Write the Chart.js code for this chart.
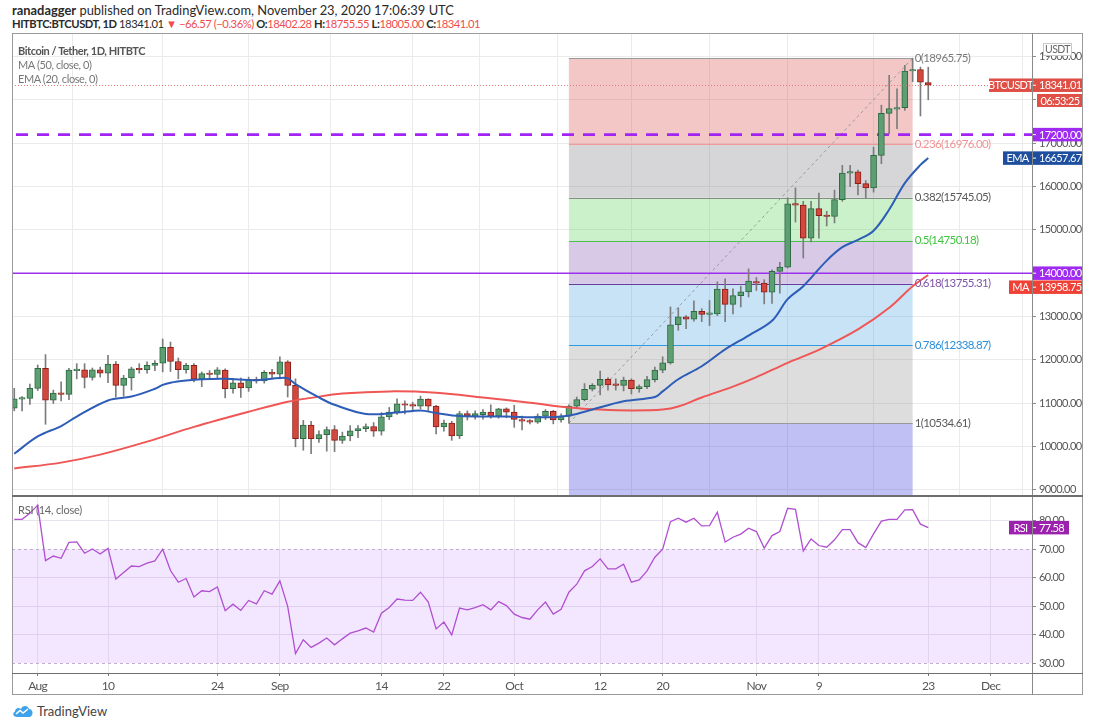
<!DOCTYPE html>
<html lang="en">
<head>
<meta charset="UTF-8">
<title>BTCUSDT 1D</title>
<script src="https://cdn.jsdelivr.net/npm/chart.js"></script>
<style>
  body { margin: 0; background: #fff; font-family: Lato, 'Liberation Sans', sans-serif; }
  #page { position: relative; width: 1102px; height: 728px; overflow: hidden; background: #fff; }
  .abs { position: absolute; white-space: nowrap; }
  .hdr { left: 12px; color: #2a2a2a; }
  .red { color: #ef4d4d; }
  .legend { left: 18px; color: #777; font-size: 11px; letter-spacing: -0.4px; }
  .line { position: absolute; background: #777; }
</style>
</head>
<body>
<div id="page">
  <div class="abs hdr" style="top:2px;font-size:12.9px"><b>ranadagger</b> published on TradingView.com, November 23, 2020 17:06:39 UTC</div>
  <div class="abs hdr" style="top:17px;font-size:11.2px;letter-spacing:-0.45px"><b>HITBTC:BTCUSDT, 1D</b> 18341.01 <span class="red">&#9660; &minus;66.57 (&minus;0.36%)</span> <b>O:</b><span class="red">18402.28</span> <b>H:</b><span class="red">18755.55</span> <b>L:</b><span class="red">18005.00</span> <b>C:</b><span class="red">18341.01</span></div>

  <div class="abs" style="left:12px;top:34px;width:1071px;height:462px"><canvas id="priceChart"></canvas></div>
  <div class="abs" style="left:12px;top:496px;width:1071px;height:199px"><canvas id="rsiChart"></canvas></div>

  <!-- frame and panel separators -->
  <div class="abs" style="left:12px;top:33px;width:1071px;height:662px;border:1px solid #9a9a9a;box-sizing:border-box"></div>
  <div class="line" style="left:1032px;top:33px;width:1px;height:662px;background:#8a8a8a"></div>
  <div class="line" style="left:12px;top:495px;width:1071px;height:2px;background:#6e6e6e"></div>
  <div class="line" style="left:12px;top:673px;width:1071px;height:1px;background:#6e6e6e"></div>

  <div class="abs legend" style="top:44px;color:#555;font-weight:bold;letter-spacing:-0.45px">Bitcoin / Tether, 1D, HITBTC</div>
  <div class="abs legend" style="top:58px">MA (50, close, 0)</div>
  <div class="abs legend" style="top:72px">EMA (20, close, 0)</div>
  <div class="abs legend" style="top:503px;color:#666;letter-spacing:-0.2px">RSI (14, close)</div>

  <div class="abs" style="left:12px;top:703px;font-size:13px;color:#444">
    <svg width="22" height="14" viewBox="0 0 22 14" style="vertical-align:-2px"><path d="M5 13 C1 13 0 9 3 7.5 C3 4 7 3 9 5 C10 1 16 1 17 5 C21 5 22 11 18 13 Z" fill="#3ea3ea"/><path d="M4 10 L8 6.5 L11 9 L16 5" stroke="#fff" stroke-width="1.6" fill="none"/></svg>
    TradingView
  </div>
</div>

<script>
// ---- data ----
const dates = [
  '07-29','07-30','07-31',
  '08-01','08-02','08-03','08-04','08-05','08-06','08-07','08-08','08-09','08-10','08-11','08-12','08-13','08-14','08-15','08-16',
  '08-17','08-18','08-19','08-20','08-21','08-22','08-23','08-24','08-25','08-26','08-27','08-28','08-29','08-30','08-31',
  '09-01','09-02','09-03','09-04','09-05','09-06','09-07','09-08','09-09','09-10','09-11','09-12','09-13','09-14','09-15',
  '09-16','09-17','09-18','09-19','09-20','09-21','09-22','09-23','09-24','09-25','09-26','09-27','09-28','09-29','09-30',
  '10-01','10-02','10-03','10-04','10-05','10-06','10-07','10-08','10-09','10-10','10-11','10-12','10-13','10-14','10-15','10-16',
  '10-17','10-18','10-19','10-20','10-21','10-22','10-23','10-24','10-25','10-26','10-27','10-28','10-29','10-30','10-31',
  '11-01','11-02','11-03','11-04','11-05','11-06','11-07','11-08','11-09','11-10','11-11','11-12','11-13','11-14','11-15','11-16',
  '11-17','11-18','11-19','11-20','11-21','11-22','11-23'
];
const opens = [
  10880, 11090, 11110,
  11340, 11800, 11070, 11230, 11200, 11750, 11770, 11590, 11770, 11690, 11900, 11410, 11580, 11790, 11770, 11870,
  11920, 12290, 11960, 11770, 11870, 11550, 11690, 11660, 11760, 11330, 11470, 11350, 11550, 11510, 11710,
  11670, 11950, 11410, 10180, 10490, 10180, 10270, 10390, 10140, 10240, 10360, 10410, 10460, 10350, 10680,
  10790, 10980, 10950, 10930, 11090, 10930, 10450, 10540, 10240, 10760, 10700, 10730, 10790, 10700, 10870,
  10790, 10620, 10590, 10560, 10700, 10810, 10610, 10700, 10930, 11080, 11320, 11410, 11550, 11420, 11410, 11530,
  11330, 11380, 11540, 11760, 11930, 12810, 12990, 12940, 13120, 13050, 13060, 13630, 13280, 13480, 13570,
  13800, 13770, 13560, 14040, 14140, 15600, 15570, 14810, 15490, 15340, 15310, 15700, 16310, 16340, 16070, 15970,
  16720, 17690, 17790, 17820, 18670, 18700, 18402.28
];
const highs = [
  11340, 11150, 11440,
  11880, 12120, 11300, 11490, 11800, 11910, 11910, 11810, 11830, 12100, 11960, 11640, 11830, 11910, 11950, 11980,
  12480, 12410, 12040, 11920, 11910, 11720, 11750, 11820, 11790, 11570, 11580, 11600, 11600, 11750, 11780,
  12070, 11980, 11560, 10600, 10580, 10360, 10450, 10480, 10330, 10480, 10480, 10520, 10550, 10780, 10900,
  11100, 11050, 11020, 11160, 11100, 10950, 10610, 10580, 10810, 10820, 10820, 10850, 10960, 10880, 10890,
  10950, 10700, 10620, 10750, 10850, 10830, 10750, 10960, 11140, 11450, 11450, 11740, 11590, 11560, 11600, 11560,
  11420, 11620, 11830, 12070, 13220, 13200, 13020, 13360, 13180, 13370, 13800, 13870, 13640, 13700, 14100,
  13900, 13850, 14080, 14250, 15740, 15970, 15660, 15660, 15850, 15430, 15920, 16490, 16490, 16380, 16140, 16910,
  17880, 18570, 18260, 18800, 18965.75, 18760, 18755.55
];
const lows = [
  10820, 10820, 10970,
  11290, 10510, 10990, 11050, 11080, 11560, 11350, 11530, 11600, 11470, 11140, 11160, 11300, 11690, 11690, 11750,
  11720, 11730, 11560, 11690, 11490, 11380, 11560, 11580, 11120, 11230, 11130, 11270, 11460, 11460, 11560,
  11560, 11140, 9990, 9910, 9830, 10090, 9890, 9880, 10070, 10130, 10200, 10340, 10230, 10260, 10620,
  10740, 10750, 10800, 10870, 10800, 10290, 10350, 10140, 10180, 10610, 10630, 10630, 10650, 10650, 10660,
  10440, 10380, 10520, 10530, 10620, 10520, 10560, 10534.61, 10880, 11050, 11280, 11190, 11300, 11300, 11280, 11210,
  11250, 11330, 11490, 11700, 11900, 12680, 12720, 12890, 12880, 12790, 13020, 12880, 13060, 13220, 13450,
  13600, 13290, 13300, 13540, 14120, 15180, 14350, 14720, 14810, 15090, 15160, 15660, 16000, 15810, 15740, 15870,
  16530, 17220, 17340, 17760, 18420, 17630, 18005.00
];
const closes = [
  11100, 11110, 11340,
  11800, 11070, 11230, 11200, 11760, 11770, 11590, 11770, 11690, 11900, 11410, 11580, 11790, 11770, 11870, 11920,
  12290, 11960, 11770, 11870, 11550, 11680, 11660, 11770, 11330, 11470, 11350, 11550, 11510, 11710, 11670,
  11950, 11410, 10180, 10490, 10180, 10270, 10390, 10140, 10240, 10360, 10410, 10460, 10350, 10680, 10790,
  10980, 10950, 10930, 11090, 10930, 10450, 10540, 10240, 10760, 10700, 10760, 10790, 10700, 10870, 10790,
  10620, 10580, 10560, 10700, 10810, 10610, 10700, 10930, 11080, 11320, 11410, 11550, 11420, 11410, 11530, 11330,
  11380, 11540, 11760, 11930, 12810, 12990, 12940, 13120, 13050, 13060, 13630, 13280, 13480, 13570, 13820,
  13770, 13560, 14040, 14140, 15600, 15570, 14810, 15490, 15330, 15310, 15700, 16310, 16340, 16070, 15970, 16720,
  17690, 17800, 17820, 18670, 18700, 18410, 18341.01
];
const rsiValues = [
  80.5, 80.5, 82.6,
  85.5, 66.0, 67.6, 66.8, 72.4, 72.6, 68.6, 70.1, 68.3, 70.3, 59.5, 61.8, 64.1, 63.9, 65.1, 65.9,
  70.0, 62.5, 58.4, 59.7, 53.2, 55.4, 55.1, 56.7, 48.4, 50.7, 48.5, 52.0, 50.8, 55.4, 54.2,
  58.9, 49.9, 33.3, 38.2, 35.5, 37.0, 38.8, 36.4, 38.5, 40.5, 41.3, 42.3, 40.9, 47.5, 49.5,
  52.5, 52.1, 52.0, 54.9, 51.4, 42.0, 44.4, 39.9, 49.3, 48.7, 49.5, 50.5, 48.7, 51.6, 50.2,
  47.2, 46.0, 45.4, 48.7, 51.4, 47.2, 48.9, 54.9, 57.7, 62.4, 63.9, 66.6, 63.1, 63.1, 64.7, 58.4,
  59.2, 62.4, 67.2, 70.0, 79.7, 80.9, 79.5, 80.9, 78.2, 78.3, 83.0, 72.5, 74.2, 75.3, 77.4,
  76.2, 70.4, 74.8, 76.2, 84.4, 84.0, 69.4, 73.6, 71.3, 70.7, 73.3, 76.9, 76.9, 72.3, 70.6, 75.4,
  79.9, 80.5, 80.5, 83.8, 83.9, 78.8, 77.58
];

const emaDates  = ['07-29','08-01','08-04','08-06','08-10','08-13','08-16','08-17','08-18','08-20','08-22','08-25','08-29','09-01','09-02','09-03','09-06','09-08','09-12','09-16','09-19','09-21','09-24','09-30','10-04','10-07','10-09','10-11','10-15','10-19','10-20','10-22','10-25','10-28','10-31','11-03','11-05','11-07','11-10','11-12','11-14','11-16','11-18','11-20','11-22','11-23'];
const emaValues = [9830, 10230, 10470, 10690, 11060, 11150, 11330, 11420, 11470, 11520, 11550, 11560, 11530, 11580, 11570, 11440, 11130, 10960, 10750, 10780, 10830, 10770, 10700, 10690, 10670, 10690, 10750, 10850, 11040, 11140, 11270, 11550, 11850, 12240, 12560, 12900, 13400, 13700, 14290, 14600, 14770, 14980, 15470, 16080, 16500, 16657.67];
const maDates  = ['07-29','08-04','08-09','08-15','08-21','08-28','09-02','09-05','09-09','09-15','09-21','09-27','10-03','10-08','10-12','10-16','10-20','10-22','10-25','10-29','11-01','11-05','11-09','11-14','11-18','11-21','11-23'];
const maValues = [9490, 9625, 9810, 10110, 10450, 10800, 11030, 11120, 11220, 11270, 11240, 11130, 11010, 10900, 10850, 10830, 10850, 10920, 11130, 11380, 11600, 11930, 12230, 12700, 13200, 13700, 13958.75];

// fibonacci retracement drawn on the chart
const fibStart = '10-08';
const fibEnd = '11-21';
const fibRatios = ['0', '0.236', '0.382', '0.5', '0.618', '0.786', '1'];
const fibLevels = [18965.75, 16976.00, 15745.05, 14750.18, 13755.31, 12338.87, 10534.61];
const fibZoneColors = ['rgba(220,70,70,0.30)', 'rgba(120,120,130,0.30)', 'rgba(80,210,80,0.30)', 'rgba(100,40,160,0.25)', 'rgba(50,150,220,0.27)', 'rgba(120,120,120,0.25)', 'rgba(60,60,220,0.32)'];
const fibLineColors = ['#9a9a9a', '#f19a9a', '#8a8a8a', '#4cc24c', '#6a3d9a', '#2f9be3', '#9a9a9a'];
const fibTextColors = ['#7a7a7a', '#f09292', '#5a5a5a', '#3fc43f', '#7d55a8', '#2a8fd8', '#5a5a5a'];

// horizontal levels
const supportDashed = 17200;
const supportSolid = 14000;
const lastPrice = 18341.01;
const countdown = '06:53:25';

// axis ticks
const priceTicks = [9000, 10000, 11000, 12000, 13000, 14000, 15000, 16000, 17000, 18000, 19000];
const rsiTicks = [30, 40, 50, 60, 70, 80];
const tickDates = ['08-01','08-10','08-24','09-01','09-14','09-22','10-01','10-12','10-20','11-01','11-09','11-23','12-01'];
const tickLabels = ['Aug','10','24','Sep','14','22','Oct','12','20','Nov','9','23','Dec'];

// ---- helpers ----
const toDay = md => {
  const [m, d] = md.split('-').map(Number);
  return Math.round((Date.UTC(2020, m - 1, d) - Date.UTC(2020, 7, 1)) / 864e5);
};
const xs = dates.map(toDay);
const X_MIN = -3.29, X_MAX = 127.28;
const FONT = 'Lato, "Liberation Sans", sans-serif';
Chart.defaults.font.family = FONT;
Chart.defaults.animation = false;

// the reference uses a narrow face; tighten canvas text a bit
Chart.register({ id: 'tightText', beforeDraw(chart) { chart.ctx.letterSpacing = '-0.6px'; } });

const upFill = '#5d9f72', upLine = '#2d6a42', dnFill = '#d2483c', dnLine = '#8c1e18';
const isUp = closes.map((c, i) => c >= opens[i]);

const bodies = xs.map((x, i) => ({ x, y: [opens[i], closes[i]] }));
const wicks = xs.map((x, i) => ({ x, y: [lows[i], highs[i]] }));

const zeroPad = s => { s.paddingTop = 0; s.paddingBottom = 0; s.paddingLeft = 0; s.paddingRight = 0; };

const xScale = (showLabels) => ({
  type: 'linear', min: X_MIN, max: X_MAX, offset: false,
  afterBuildTicks: s => { s.ticks = tickDates.map(t => ({ value: toDay(t) })); },
  afterFit: s => { zeroPad(s); s.height = showLabels ? 22 : 0; },
  grid: { color: '#ebebeb', drawTicks: showLabels, tickLength: 3, tickColor: '#777' },
  border: { display: false },
  ticks: {
    display: showLabels, color: '#555', padding: 3, maxRotation: 0, autoSkip: false,
    font: { size: 12 },
    callback: (v) => tickLabels[tickDates.findIndex(t => toDay(t) === v)]
  }
});

function drawTag(ctx, left, right, cy, bg, name, split, value) {
  const h = 13.5;
  ctx.fillStyle = bg;
  ctx.fillRect(left, cy - h / 2, right - left, h);
  ctx.fillStyle = '#fff';
  ctx.font = '11px ' + FONT;
  ctx.textBaseline = 'middle';
  if (name) {
    ctx.textAlign = 'center';
    ctx.fillText(name, (left + split) / 2, cy + 0.5);
  }
  ctx.fillRect(split, cy - 0.5, 4, 1);
  ctx.textAlign = 'left';
  ctx.fillText(value, split + 7, cy + 0.5);
  return cy + h / 2;
}

const priceOverlay = {
  id: 'priceOverlay',
  beforeDatasetsDraw(chart) {
    const { ctx, chartArea: a, scales: { x, y } } = chart;
    ctx.save();
    ctx.beginPath();
    ctx.rect(a.left, a.top, a.right - a.left, a.bottom - a.top);
    ctx.clip();
    const x0 = x.getPixelForValue(toDay(fibStart));
    const x1 = x.getPixelForValue(toDay(fibEnd));
    for (let i = 0; i < fibLevels.length; i++) {
      const yTop = y.getPixelForValue(fibLevels[i]);
      const yBot = i < fibLevels.length - 1 ? y.getPixelForValue(fibLevels[i + 1]) : a.bottom;
      ctx.fillStyle = fibZoneColors[i];
      ctx.fillRect(x0, yTop, x1 - x0, yBot - yTop);
    }
    fibLevels.forEach((lv, i) => {
      const py = Math.round(y.getPixelForValue(lv)) + 0.5;
      ctx.strokeStyle = fibLineColors[i];
      ctx.lineWidth = 1;
      ctx.beginPath(); ctx.moveTo(x0, py); ctx.lineTo(x1, py); ctx.stroke();
    });
    // diagonal trend line of the retracement
    ctx.setLineDash([3, 3]);
    ctx.strokeStyle = '#9a9a9a';
    ctx.beginPath();
    ctx.moveTo(x0, y.getPixelForValue(fibLevels[fibLevels.length - 1]));
    ctx.lineTo(x1, y.getPixelForValue(fibLevels[0]));
    ctx.stroke();
    // 14000 solid and 17200 dashed levels
    ctx.setLineDash([]);
    ctx.strokeStyle = '#9b30ef';
    ctx.lineWidth = 1.5;
    let py = y.getPixelForValue(supportSolid);
    ctx.beginPath(); ctx.moveTo(a.left, py); ctx.lineTo(a.right, py); ctx.stroke();
    ctx.setLineDash([12, 9]);
    ctx.strokeStyle = '#a124f2';
    ctx.lineWidth = 2.6;
    py = y.getPixelForValue(supportDashed);
    ctx.beginPath(); ctx.moveTo(a.left + 4, py); ctx.lineTo(a.right, py); ctx.stroke();
    ctx.restore();
  },
  afterDatasetsDraw(chart) {
    const { ctx, chartArea: a, scales: { x, y } } = chart;
    ctx.save();
    // last price dotted line
    ctx.setLineDash([1, 2]);
    ctx.strokeStyle = '#e77a7a';
    ctx.lineWidth = 1;
    const py = Math.round(y.getPixelForValue(lastPrice)) + 0.5;
    ctx.beginPath(); ctx.moveTo(a.left, py); ctx.lineTo(a.right, py); ctx.stroke();
    ctx.setLineDash([]);
    // fib labels
    const x1 = x.getPixelForValue(toDay(fibEnd));
    ctx.font = '11.5px ' + FONT;
    ctx.textBaseline = 'middle';
    ctx.textAlign = 'left';
    fibLevels.forEach((lv, i) => {
      ctx.fillStyle = fibTextColors[i];
      ctx.fillText(fibRatios[i] + '(' + lv.toFixed(2) + ')', x1 + 2, y.getPixelForValue(lv));
    });
    ctx.restore();
  },
  afterDraw(chart) {
    const { ctx, scales: { y } } = chart;
    const axL = y.left, axR = chart.width;
    ctx.save();
    // currency badge
    ctx.fillStyle = '#fff';
    ctx.strokeStyle = '#c9c9c9';
    ctx.lineWidth = 1;
    ctx.fillRect(axL + 11, 9, 28, 12);
    ctx.strokeRect(axL + 11.5, 9.5, 28, 12);
    ctx.fillStyle = '#666';
    ctx.font = '10.5px ' + FONT;
    ctx.textAlign = 'center';
    ctx.textBaseline = 'middle';
    ctx.fillText('USDT', axL + 25.5, 15.5);

    let bottom = drawTag(ctx, axL - 43, axR, y.getPixelForValue(lastPrice), '#df4f45', 'BTCUSDT', axL, lastPrice.toFixed(2));
    ctx.fillStyle = '#df4f45';
    ctx.fillRect(axL + 5, bottom + 2, axR - axL - 5, 13);
    ctx.fillStyle = '#fff';
    ctx.textAlign = 'center';
    ctx.fillText(countdown, (axL + 5 + axR) / 2, bottom + 9);

    drawTag(ctx, axL, axR, y.getPixelForValue(supportDashed), '#9f2af0', null, axL, supportDashed.toFixed(2));
    const emaLast = emaValues[emaValues.length - 1];
    drawTag(ctx, axL - 29, axR, y.getPixelForValue(emaLast), '#1d4f9e', 'EMA', axL, emaLast.toFixed(2));
    bottom = drawTag(ctx, axL, axR, y.getPixelForValue(supportSolid), '#9f2af0', null, axL, supportSolid.toFixed(2));
    const maLast = maValues[maValues.length - 1];
    const maY = Math.max(y.getPixelForValue(maLast), bottom + 7.25);
    drawTag(ctx, axL - 23, axR, maY, '#ef4136', 'MA', axL, maLast.toFixed(2));
    ctx.restore();
  }
};

new Chart(document.getElementById('priceChart'), {
  type: 'bar',
  data: {
    datasets: [
      { type: 'line', label: 'EMA (20)', data: emaDates.map((d, i) => ({ x: toDay(d), y: emaValues[i] })),
        borderColor: '#2d5db6', borderWidth: 2, pointRadius: 0, tension: 0.35, order: -2 },
      { type: 'line', label: 'MA (50)', data: maDates.map((d, i) => ({ x: toDay(d), y: maValues[i] })),
        borderColor: '#ef5656', borderWidth: 2, pointRadius: 0, tension: 0.35, order: -1 },
      { label: 'body', data: bodies, grouped: false, barThickness: 6, minBarLength: 1.5,
        backgroundColor: isUp.map(u => u ? upFill : dnFill), borderColor: isUp.map(u => u ? upLine : dnLine),
        borderWidth: 1, borderSkipped: false, order: 0 },
      { label: 'wick', data: wicks, grouped: false, barThickness: 1,
        backgroundColor: '#7c7c7c', order: 1 }
    ]
  },
  options: {
    responsive: true, maintainAspectRatio: false,
    layout: { padding: 0 },
    plugins: { legend: { display: false }, tooltip: { enabled: false } },
    scales: {
      x: xScale(false),
      y: {
        position: 'right', min: 8854, max: 19524,
        afterBuildTicks: s => { s.ticks = priceTicks.map(v => ({ value: v })); },
        afterFit: s => { zeroPad(s); s.width = 51; },
        grid: { color: '#ebebeb', tickLength: 4, tickColor: '#8a8a8a' },
        border: { display: false },
        ticks: { color: '#555', padding: 3, font: { size: 11 }, callback: v => v.toFixed(2) }
      }
    }
  },
  plugins: [priceOverlay]
});

const rsiOverlay = {
  id: 'rsiOverlay',
  beforeDatasetsDraw(chart) {
    const { ctx, chartArea: a, scales: { y } } = chart;
    ctx.save();
    const y70 = y.getPixelForValue(70), y30 = y.getPixelForValue(30);
    ctx.fillStyle = 'rgba(150,40,255,0.11)';
    ctx.fillRect(a.left, y70, a.right - a.left, y30 - y70);
    ctx.setLineDash([3, 3]);
    ctx.strokeStyle = '#c3aecf';
    ctx.lineWidth = 1;
    [y70, y30].forEach(py => {
      py = Math.round(py) + 0.5;
      ctx.beginPath(); ctx.moveTo(a.left, py); ctx.lineTo(a.right, py); ctx.stroke();
    });
    ctx.restore();
  },
  afterDraw(chart) {
    const { ctx, scales: { y } } = chart;
    const last = rsiValues[rsiValues.length - 1];
    ctx.save();
    drawTag(ctx, y.left - 23, y.left + 37, y.getPixelForValue(last), '#9b22ad', 'RSI', y.left, last.toFixed(2));
    ctx.restore();
  }
};

new Chart(document.getElementById('rsiChart'), {
  type: 'line',
  data: {
    datasets: [{ label: 'RSI', data: xs.map((x, i) => ({ x, y: rsiValues[i] })),
      borderColor: '#b04fcf', borderWidth: 1.3, pointRadius: 0, tension: 0 }]
  },
  options: {
    responsive: true, maintainAspectRatio: false,
    layout: { padding: 0 },
    plugins: { legend: { display: false }, tooltip: { enabled: false } },
    scales: {
      x: xScale(true),
      y: {
        position: 'right', min: 26.5, max: 88.7,
        afterBuildTicks: s => { s.ticks = rsiTicks.map(v => ({ value: v })); },
        afterFit: s => { zeroPad(s); s.width = 51; },
        grid: { color: ctx => (ctx.tick && (ctx.tick.value === 30 || ctx.tick.value === 70)) ? 'rgba(0,0,0,0)' : '#e9e3ee',
                tickLength: 4, tickColor: '#8a8a8a' },
        border: { display: false },
        ticks: { color: '#555', padding: 3, font: { size: 11 }, callback: v => v.toFixed(2) }
      }
    }
  },
  plugins: [rsiOverlay]
});
</script>
</body>
</html>
